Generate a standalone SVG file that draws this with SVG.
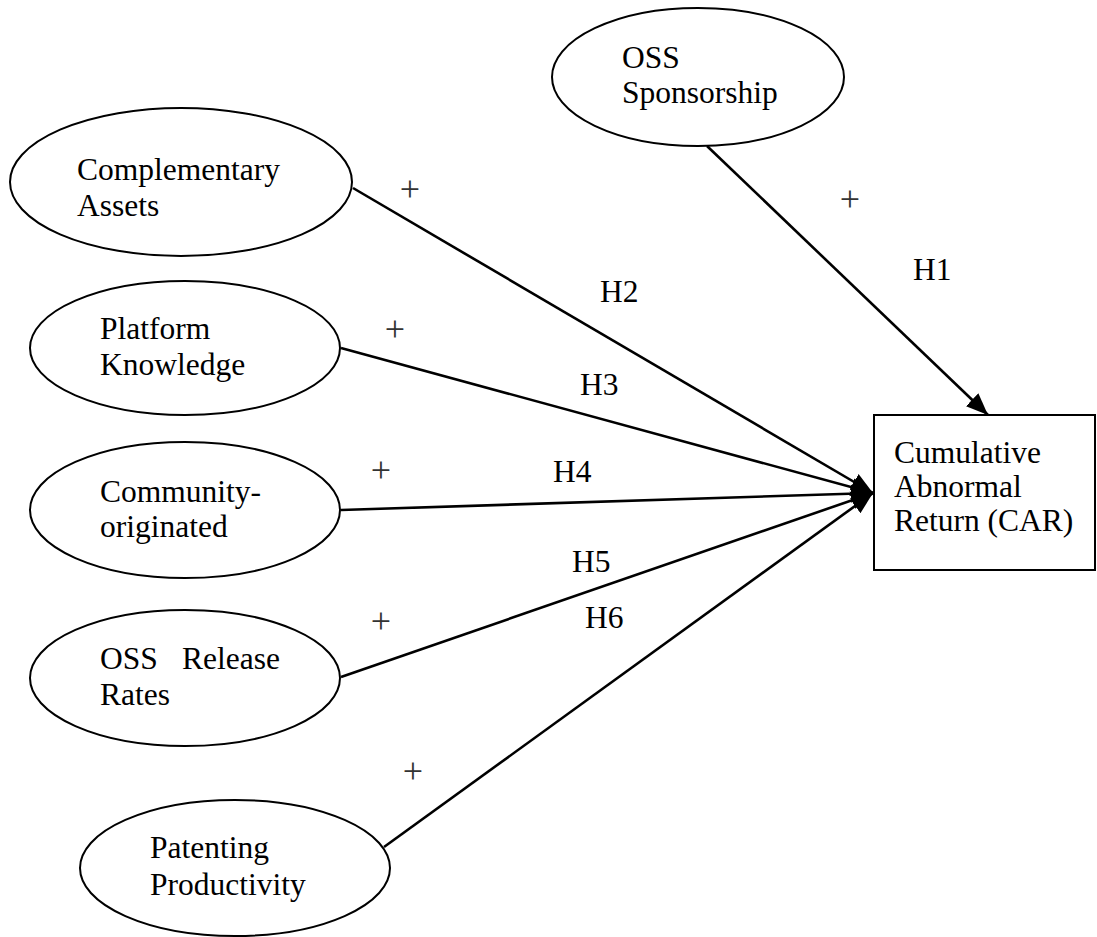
<svg xmlns="http://www.w3.org/2000/svg" width="1097" height="937" viewBox="0 0 1097 937">
<style>
.node{fill:#fff;stroke:#000;stroke-width:2}
.t{font-family:"Liberation Serif","Times New Roman",serif;font-size:31.5px;fill:#000}
.p{font-family:"Liberation Serif","Times New Roman",serif;font-size:36px;fill:#333;text-anchor:middle}
.e{fill:none;stroke:#000;stroke-width:2.6}
</style>
<defs>
<marker id="ah" markerUnits="userSpaceOnUse" markerWidth="24" markerHeight="20" refX="22" refY="9" orient="auto" viewBox="0 0 24 18">
<path d="M0,0 L22,9 L0,18 Z" fill="#000"/>
</marker>
</defs>
<rect width="1097" height="937" fill="#fff"/>
<g id="connectors">
<line class="e" x1="707" y1="146" x2="988" y2="415" marker-end="url(#ah)"/>
<line class="e" x1="353" y1="188" x2="873" y2="493" marker-end="url(#ah)"/>
<line class="e" x1="341" y1="348" x2="873" y2="493" marker-end="url(#ah)"/>
<line class="e" x1="341" y1="510" x2="873" y2="493" marker-end="url(#ah)"/>
<line class="e" x1="341" y1="677" x2="873" y2="493" marker-end="url(#ah)"/>
<line class="e" x1="384" y1="847" x2="873" y2="493" marker-end="url(#ah)"/>
</g>
<g id="labels">
<text class="p" x="850" y="211">+</text>
<text class="t" x="913" y="280">H1</text>
<text class="p" x="410" y="201">+</text>
<text class="t" x="600" y="302">H2</text>
<text class="p" x="395" y="341">+</text>
<text class="t" x="580" y="395">H3</text>
<text class="p" x="381" y="482">+</text>
<text class="t" x="553" y="482">H4</text>
<text class="t" x="572" y="572">H5</text>
<text class="p" x="381" y="633">+</text>
<text class="t" x="585" y="628">H6</text>
<text class="p" x="413" y="783">+</text>
</g>
<g id="oss-sponsorship">
<ellipse class="node" cx="698" cy="77" rx="146" ry="69"/>
<text class="t" x="622" y="68">OSS</text>
<text class="t" x="622" y="103">Sponsorship</text>
</g>
<g id="complementary-assets">
<ellipse class="node" cx="181" cy="182" rx="171" ry="74"/>
<text class="t" x="77" y="180">Complementary</text>
<text class="t" x="77" y="216">Assets</text>
</g>
<g id="platform-knowledge">
<ellipse class="node" cx="185" cy="348" rx="155" ry="67"/>
<text class="t" x="100" y="339">Platform</text>
<text class="t" x="100" y="375">Knowledge</text>
</g>
<g id="community-originated">
<ellipse class="node" cx="185" cy="510" rx="155" ry="68"/>
<text class="t" x="100" y="502">Community-</text>
<text class="t" x="100" y="537">originated</text>
</g>
<g id="oss-release-rates">
<ellipse class="node" cx="185" cy="678" rx="155" ry="68"/>
<text class="t" x="100" y="669">OSS</text>
<text class="t" x="182" y="669">Release</text>
<text class="t" x="100" y="705">Rates</text>
</g>
<g id="patenting-productivity">
<ellipse class="node" cx="235" cy="868" rx="155" ry="68"/>
<text class="t" x="150" y="858">Patenting</text>
<text class="t" x="150" y="895">Productivity</text>
</g>
<g id="car">
<rect class="node" x="874" y="415" width="221" height="155"/>
<text class="t" x="894" y="463">Cumulative</text>
<text class="t" x="894" y="497">Abnormal</text>
<text class="t" x="894" y="531">Return (CAR)</text>
</g>
</svg>
